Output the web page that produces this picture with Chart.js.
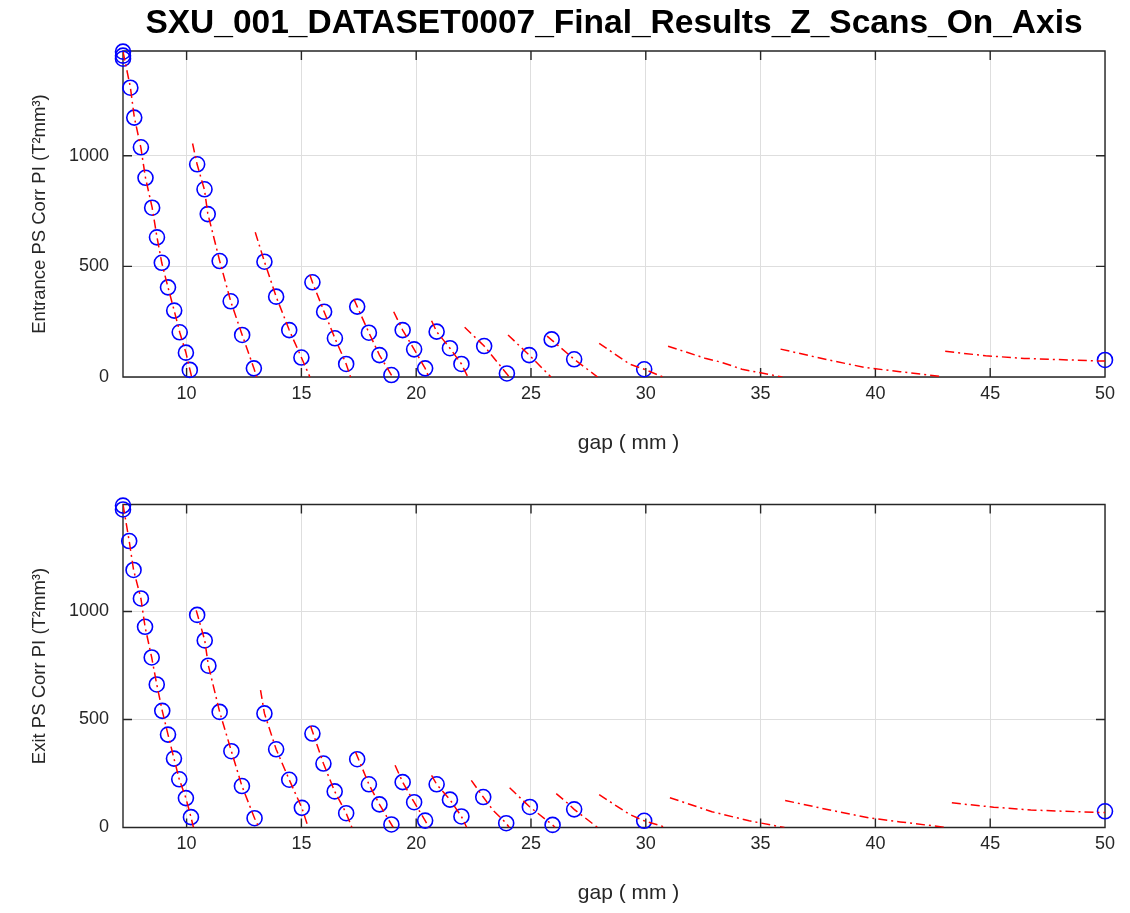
<!DOCTYPE html>
<html>
<head>
<meta charset="utf-8">
<script src="https://cdn.jsdelivr.net/npm/chart.js@4.4.1/dist/chart.umd.min.js"></script>
<style>
  body { margin: 0; background: #fff; }
  .panel { position: absolute; left: 0; width: 1130px; }
  #top { top: 0; height: 456px; }
  #bottom { top: 456px; height: 457px; }
</style>
</head>
<body>
<div class="panel" id="top"><canvas id="chart-entrance" width="1130" height="456"></canvas></div>
<div class="panel" id="bottom"><canvas id="chart-exit" width="1130" height="457"></canvas></div>
<script>
const gapTicks = [10, 15, 20, 25, 30, 35, 40, 45, 50];
const piTicks = [0, 500, 1000];

// measured points (blue circles)
const entranceGap = [7.23, 7.23, 7.23, 7.55, 7.72, 8.01, 8.21, 8.5, 8.71, 8.92, 9.19, 9.46, 9.7, 9.97, 10.14,
  10.46, 10.78, 10.92, 11.44, 11.92, 12.42, 12.93,
  13.39, 13.9, 14.47, 15.0,
  15.48, 15.99, 16.46, 16.95,
  17.43, 17.94, 18.4, 18.92,
  19.41, 19.91, 20.39,
  20.89, 21.47, 21.97,
  22.96, 23.95,
  24.92, 25.9, 26.88,
  29.93, 50.0];
const entranceVal = [1470, 1452, 1438, 1307, 1172, 1038, 900, 765, 631, 516, 405, 300, 202, 110, 32,
  961, 848, 736, 524, 342, 190, 39,
  521, 363, 212, 88,
  428, 295, 175, 59,
  318, 200, 99, 9,
  212, 125, 39,
  205, 130, 59,
  140, 16,
  99, 170, 80,
  35, 77];

const exitGap = [7.23, 7.23, 7.5, 7.69, 8.01, 8.19, 8.48, 8.7, 8.94, 9.19, 9.45, 9.68, 9.97, 10.19,
  10.46, 10.79, 10.95, 11.44, 11.95, 12.41, 12.96,
  13.39, 13.9, 14.47, 15.02,
  15.48, 15.96, 16.45, 16.95,
  17.43, 17.94, 18.4, 18.92,
  19.41, 19.91, 20.39,
  20.89, 21.47, 21.97,
  22.92, 23.92,
  24.95, 25.94, 26.88,
  29.93, 50.0];
const exitVal = [1490, 1472, 1326, 1192, 1060, 929, 787, 662, 540, 430, 319, 223, 136, 48,
  984, 866, 749, 535, 353, 192, 43,
  528, 362, 221, 91,
  435, 296, 167, 66,
  316, 200, 107, 14,
  210, 117, 32,
  200, 129, 51,
  141, 20,
  95, 12, 84,
  31, 75];

// fitted curves (red dash-dot), one list per scan
const entranceFitGap = [
  [7.23, 7.55, 7.72, 8.01, 8.21, 8.5, 8.71, 8.92, 9.19, 9.46, 9.7, 9.97, 10.14, 10.22],
  [10.26, 10.46, 10.78, 10.92, 11.44, 11.92, 12.42, 12.93, 13.05],
  [12.99, 13.39, 13.9, 14.47, 15.0, 15.37],
  [15.37, 15.48, 15.99, 16.46, 16.95, 17.14],
  [17.29, 17.43, 17.94, 18.4, 18.92, 18.96],
  [19.02, 19.41, 19.91, 20.39, 20.55],
  [20.67, 20.89, 21.47, 21.97, 22.25],
  [22.11, 22.96, 23.95, 24.05],
  [24.0, 24.92, 25.87],
  [25.7, 26.88, 27.9],
  [27.97, 29.3, 29.93, 30.75],
  [30.97, 32.58, 33.31, 34.19, 35.95],
  [35.87, 38.0, 39.6, 41.07, 42.9],
  [43.04, 44.8, 46.48, 49.55, 50.0]
];
const entranceFitVal = [
  [1470, 1310, 1175, 1035, 900, 765, 632, 515, 405, 300, 202, 110, 35, 0],
  [1055, 960, 845, 740, 525, 342, 190, 40, 0],
  [654, 521, 363, 212, 88, 0],
  [461, 428, 295, 175, 59, 0],
  [351, 318, 200, 99, 9, 0],
  [295, 212, 125, 39, 0],
  [254, 205, 130, 59, 0],
  [225, 140, 14, 0],
  [190, 99, 0],
  [185, 80, 0],
  [152, 58, 35, 0],
  [139, 85, 66, 35, 0],
  [126, 76, 42, 24, 2],
  [116, 96, 84, 73, 72]
];

const exitFitGap = [
  [7.23, 7.5, 7.69, 8.01, 8.19, 8.48, 8.7, 8.94, 9.19, 9.45, 9.68, 9.97, 10.19, 10.3],
  [10.42, 10.79, 10.95, 11.44, 11.95, 12.41, 12.96, 13.15],
  [13.22, 13.39, 13.9, 14.47, 15.02, 15.3],
  [15.4, 15.96, 16.45, 16.95, 17.2],
  [17.36, 17.94, 18.4, 18.92, 19.0],
  [19.08, 19.41, 19.91, 20.39, 20.55],
  [20.67, 20.89, 21.47, 21.97, 22.2],
  [22.4, 22.92, 23.35, 23.92, 24.05],
  [24.07, 24.95, 25.94, 26.05],
  [26.1, 26.6, 26.88, 27.9],
  [27.97, 29.3, 29.93, 30.69, 30.8],
  [31.05, 32.88, 34.5, 36.04],
  [36.07, 38.15, 39.76, 41.08, 43.1],
  [43.33, 45.15, 46.77, 49.55, 50.0]
];
const exitFitVal = [
  [1495, 1326, 1192, 1060, 929, 787, 662, 540, 430, 319, 223, 136, 48, 0],
  [1005, 866, 749, 535, 353, 192, 43, 0],
  [636, 528, 362, 221, 91, 0],
  [470, 296, 167, 66, 0],
  [349, 200, 107, 14, 0],
  [288, 210, 117, 32, 0],
  [241, 200, 129, 51, 0],
  [218, 141, 79, 20, 0],
  [184, 95, 12, 0],
  [157, 112, 84, 0],
  [152, 60, 31, 7, 0],
  [138, 73, 31, 0],
  [125, 78, 44, 26, 0],
  [114, 94, 81, 70, 69]
];

const axisColor = '#262626';
const gridColor = '#dedede';
const FONT = "'Liberation Sans', Arial, Helvetica, sans-serif";

// MATLAB-style box with inward tick marks
const boxTicks = {
  id: 'boxTicks',
  beforeDatasetsDraw(chart) {
    const { ctx, chartArea: a, scales: { x, y } } = chart;
    ctx.save();
    ctx.strokeStyle = axisColor;
    ctx.lineWidth = 1.4;
    ctx.beginPath();
    x.ticks.forEach((t) => {
      const px = x.getPixelForValue(t.value);
      ctx.moveTo(px, a.bottom); ctx.lineTo(px, a.bottom - 9);
      ctx.moveTo(px, a.top); ctx.lineTo(px, a.top + 9);
    });
    y.ticks.forEach((t) => {
      const py = y.getPixelForValue(t.value);
      ctx.moveTo(a.left, py); ctx.lineTo(a.left + 9, py);
      ctx.moveTo(a.right, py); ctx.lineTo(a.right - 9, py);
    });
    ctx.rect(a.left, a.top, a.right - a.left, a.bottom - a.top);
    ctx.stroke();
    ctx.restore();
  },
};

function buildDatasets(gap, val, fitGap, fitVal) {
  const fits = fitGap.map((xs, k) => ({
    type: 'line',
    data: xs.map((g, i) => ({ x: g, y: fitVal[k][i] })),
    borderColor: '#ff0000',
    borderWidth: 1.5,
    borderDash: [9, 4, 2, 4],
    pointRadius: 0,
    fill: false,
    tension: 0,
  }));
  const points = {
    type: 'scatter',
    data: gap.map((g, i) => ({ x: g, y: val[i] })),
    borderColor: '#0000ff',
    backgroundColor: 'rgba(0,0,0,0)',
    borderWidth: 1.6,
    pointRadius: 7.5,
    clip: false,
  };
  return [...fits, points];
}

function makeChart(id, opts) {
  return new Chart(document.getElementById(id), {
    type: 'scatter',
    data: { datasets: buildDatasets(opts.gap, opts.val, opts.fitGap, opts.fitVal) },
    options: {
      responsive: false,
      animation: false,
      events: [],
      layout: { padding: opts.padding },
      plugins: {
        legend: { display: false },
        tooltip: { enabled: false },
        title: opts.title
          ? {
              display: true,
              text: opts.title,
              fullSize: false,
              color: '#000',
              font: { family: FONT, size: 33.5, weight: 'bold' },
              padding: { top: 4, bottom: 6.8 },
            }
          : { display: false },
      },
      scales: {
        x: {
          type: 'linear',
          min: 7.23,
          max: 50,
          afterBuildTicks: (s) => { s.ticks = gapTicks.map((v) => ({ value: v })); },
          afterFit: (s) => { s.height = opts.xHeight; },
          grid: { color: gridColor, lineWidth: 1, drawTicks: false },
          border: { display: false },
          ticks: { color: axisColor, padding: 6, maxRotation: 0, font: { family: FONT, size: 18 } },
          title: {
            display: true,
            text: '     gap ( mm )',
            color: axisColor,
            font: { family: FONT, size: 21 },
            padding: { top: 0, bottom: opts.xTitlePad },
          },
        },
        y: {
          type: 'linear',
          min: 0,
          max: opts.ymax,
          afterBuildTicks: (s) => { s.ticks = piTicks.map((v) => ({ value: v })); },
          afterFit: (s) => { s.width = 123; },
          grid: { color: gridColor, lineWidth: 1, drawTicks: false },
          border: { display: false },
          ticks: {
            color: axisColor,
            padding: 14,
            font: { family: FONT, size: 18 },
            callback: (v) => String(v),
          },
          title: {
            display: true,
            text: opts.ylabel,
            color: axisColor,
            font: { family: FONT, size: 18.5 },
            padding: { top: 29, bottom: 0 },
          },
        },
      },
    },
    plugins: [boxTicks],
  });
}

makeChart('chart-entrance', {
  gap: entranceGap, val: entranceVal, fitGap: entranceFitGap, fitVal: entranceFitVal,
  title: 'SXU_001_DATASET0007_Final_Results_Z_Scans_On_Axis',
  ylabel: 'Entrance PS Corr PI (T\u00B2mm\u00B3)',
  ymax: 1473,
  padding: { top: 0, right: 25, bottom: 0, left: 0 },
  xHeight: 79,
  xTitlePad: 0,
});

makeChart('chart-exit', {
  gap: exitGap, val: exitVal, fitGap: exitFitGap, fitVal: exitFitVal,
  title: null,
  ylabel: 'Exit PS Corr PI (T\u00B2mm\u00B3)',
  ymax: 1495,
  padding: { top: 48.5, right: 25, bottom: 0, left: 0 },
  xHeight: 85.5,
  xTitlePad: 7,
});
</script>
</body>
</html>
